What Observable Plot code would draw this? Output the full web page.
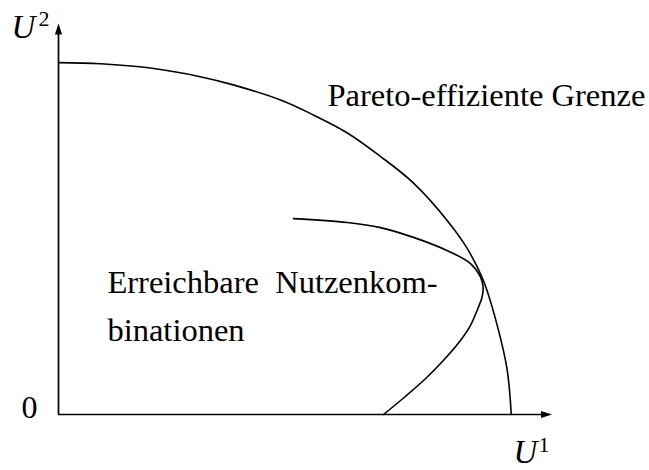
<!DOCTYPE html>
<html>
<head>
<meta charset="utf-8">
<script src="https://cdn.jsdelivr.net/npm/d3@7"></script>
<script src="https://cdn.jsdelivr.net/npm/@observablehq/plot@0.6"></script>
<style>
  html, body { margin: 0; padding: 0; background: #fff; }
  #chart svg { display: block; }
</style>
</head>
<body>
<div id="chart"></div>
<script>
// Pareto-efficient frontier (U1, U2)
const frontierU1 = [0, 9.3, 20.3, 31.3, 38.6, 49.6, 56.3, 63.8, 71.0, 78.3, 85.8, 90.2, 93.8, 96.9, 99.1, 100];
const frontierU2 = [90.0, 89.7, 88.6, 86.4, 84.3, 80.2, 76.6, 72.0, 66.1, 59.3, 49.7, 42.6, 34.4, 22.8, 11.4, 0];

// Attainable utility combinations boundary (U1, U2)
const innerU1 = [51.9, 63.8, 71.1, 78.4, 85.9, 91.0, 93.2, 93.8, 93.5, 92.8, 91.0, 88.3, 85.0, 81.1, 76.6, 71.8];
const innerU2 = [50.1, 49.1, 47.8, 45.3, 41.9, 38.6, 35.2, 32.4, 29.8, 27.6, 22.8, 18.2, 13.8, 9.2, 4.6, 0];

// Axis extents
const u1Max = 109;
const u2Max = 100;

// Text labels (left-aligned)
const labelTexts = ["Pareto-effiziente Grenze", "Erreichbare\u2002Nutzenkom-", "binationen"];
const labelU1 = [59.4, 10.8, 10.8];
const labelU2 = [79.0, 31.0, 18.8];

// Origin label
const originText = ["0"];
const originU1 = [-6.4];
const originU2 = [-0.8];

// Axis titles (italic U with superscript index)
const axisTitleText = ["U", "U"];
const axisTitleU1 = [-10.4, 100.5];
const axisTitleU2 = [96.4, -12.4];
const axisIndexText = ["2", "1"];
const axisIndexU1 = [-4.4, 106.0];
const axisIndexU2 = [99.4, -9.7];

const frontier = frontierU1.map((u, i) => ({u1: u, u2: frontierU2[i]}));
const inner = innerU1.map((u, i) => ({u1: u, u2: innerU2[i]}));
const labels = labelTexts.map((t, i) => ({text: t, u1: labelU1[i], u2: labelU2[i]}));
const origin = originText.map((t, i) => ({text: t, u1: originU1[i], u2: originU2[i]}));
const titles = axisTitleText.map((t, i) => ({text: t, u1: axisTitleU1[i], u2: axisTitleU2[i]}));
const indices = axisIndexText.map((t, i) => ({text: t, u1: axisIndexU1[i], u2: axisIndexU2[i]}));

// Filled arrowheads with tip at the point
const arrowUp = {draw(ctx) { ctx.moveTo(0, 0); ctx.lineTo(3.6, 11); ctx.lineTo(-3.6, 11); ctx.closePath(); }};
const arrowRight = {draw(ctx) { ctx.moveTo(0, 0); ctx.lineTo(-11, 3.6); ctx.lineTo(-11, -3.6); ctx.closePath(); }};

const font = "'Liberation Serif', 'Times New Roman', serif";

const chart = Plot.plot({
  width: 649,
  height: 470,
  marginLeft: 58,
  marginRight: 97.5,
  marginTop: 23,
  marginBottom: 56,
  x: {domain: [0, u1Max], axis: null},
  y: {domain: [0, u2Max], axis: null},
  style: {background: "#fff", fontFamily: font},
  marks: [
    Plot.ruleX([0], {y1: 0, y2: u2Max - 2.5, stroke: "#000", strokeWidth: 1.7}),
    Plot.ruleY([0], {x1: 0, x2: u1Max - 2, stroke: "#000", strokeWidth: 1.7}),
    Plot.dot([{u1: 0, u2: u2Max}], {x: "u1", y: "u2", symbol: arrowUp, fill: "#000", stroke: null, r: 4}),
    Plot.dot([{u1: u1Max, u2: 0}], {x: "u1", y: "u2", symbol: arrowRight, fill: "#000", stroke: null, r: 4}),
    Plot.line(frontier, {x: "u1", y: "u2", curve: "catmull-rom", stroke: "#000", strokeWidth: 1.6}),
    Plot.line(inner, {x: "u1", y: "u2", curve: "catmull-rom", stroke: "#000", strokeWidth: 1.6}),
    Plot.text(labels, {x: "u1", y: "u2", text: "text", textAnchor: "start", lineAnchor: "bottom", fontSize: 32.5, fill: "#000", fontFamily: font}),
    Plot.text(origin, {x: "u1", y: "u2", text: "text", textAnchor: "middle", lineAnchor: "bottom", fontSize: 32, fill: "#000", fontFamily: font}),
    Plot.text(titles, {x: "u1", y: "u2", text: "text", textAnchor: "start", lineAnchor: "bottom", fontSize: 33, fontStyle: "italic", fill: "#000", fontFamily: font}),
    Plot.text(indices, {x: "u1", y: "u2", text: "text", textAnchor: "start", lineAnchor: "bottom", fontSize: 22, fill: "#000", fontFamily: font})
  ]
});
document.getElementById("chart").appendChild(chart);
</script>
</body>
</html>
